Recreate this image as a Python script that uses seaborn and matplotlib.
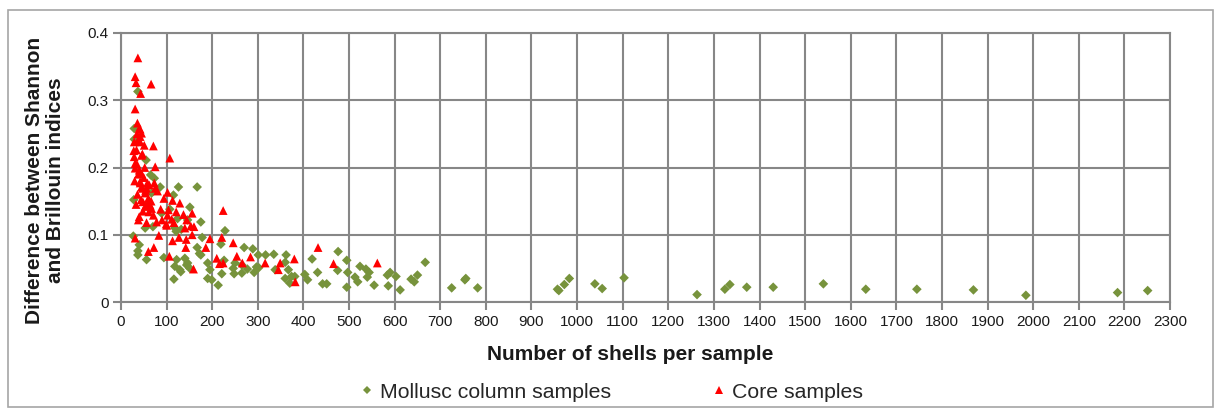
import matplotlib
matplotlib.use("Agg")
import matplotlib.pyplot as plt
from matplotlib.lines import Line2D
from matplotlib.patches import Rectangle
import seaborn as sns
import pandas as pd

# Mollusc column samples: number of shells vs. Shannon-Brillouin difference
mollusc_n = [37, 29, 29, 55, 65, 73, 86, 126, 167, 53, 67, 115, 28, 60, 151, 107, 89,
             124, 146, 175, 53, 70, 132, 121, 118, 228, 27, 178, 40, 37, 37, 56, 167,
             172, 175, 94, 122, 140, 118, 129, 144, 151, 131, 146, 116, 190, 195, 190,
             199, 213, 219, 226, 221, 246, 248, 265, 270, 289, 277, 292, 301, 317, 302,
             335, 362, 338, 360, 367, 374, 360, 370, 381, 403, 409, 419, 431, 442, 451,
             476, 475, 495, 497, 495, 513, 519, 524, 537, 544, 540, 555, 584, 590, 586,
             603, 612, 636, 643, 650, 667, 725, 754, 756, 782, 957, 960, 972, 983, 1039,
             1055, 1103, 1263, 1324, 1335, 1372, 1430, 1540, 1633, 1745, 1869, 1984,
             2185, 2251, 297, 265, 250]
mollusc_diff = [0.313, 0.258, 0.242, 0.211, 0.189, 0.184, 0.171, 0.171, 0.171, 0.167,
                0.162, 0.159, 0.152, 0.147, 0.141, 0.138, 0.132, 0.124, 0.122, 0.119,
                0.110, 0.112, 0.108, 0.105, 0.110, 0.106, 0.098, 0.096, 0.085, 0.076,
                0.070, 0.063, 0.081, 0.072, 0.070, 0.066, 0.063, 0.065, 0.053, 0.048,
                0.055, 0.050, 0.045, 0.058, 0.034, 0.058, 0.048, 0.035, 0.033, 0.025,
                0.086, 0.062, 0.042, 0.050, 0.042, 0.043, 0.081, 0.079, 0.049, 0.044,
                0.070, 0.070, 0.051, 0.071, 0.070, 0.048, 0.059, 0.048, 0.038, 0.035,
                0.028, 0.038, 0.041, 0.033, 0.064, 0.044, 0.027, 0.027, 0.075, 0.047,
                0.062, 0.044, 0.022, 0.037, 0.030, 0.053, 0.049, 0.044, 0.037, 0.025,
                0.040, 0.044, 0.024, 0.038, 0.018, 0.034, 0.030, 0.040, 0.059, 0.021,
                0.033, 0.035, 0.021, 0.019, 0.017, 0.026, 0.035, 0.027, 0.020, 0.036,
                0.011, 0.019, 0.026, 0.022, 0.022, 0.027, 0.019, 0.019, 0.018, 0.010,
                0.014, 0.017, 0.052, 0.055, 0.058]

# Core samples
core_n = [37, 31, 33, 66, 43, 31, 36, 40, 42, 45, 42, 38, 29, 42, 51, 71, 34, 29, 45,
          107, 31, 75, 31, 40, 45, 42, 45, 42, 58, 73, 62, 47, 56, 75, 54, 53, 102, 94,
          113, 44, 60, 48, 59, 129, 53, 64, 67, 87, 61, 121, 137, 156, 224, 40, 71, 102,
          104, 111, 116, 56, 99, 38, 78, 100, 144, 140, 153, 160, 156, 31, 83, 113, 127,
          143, 195, 221, 246, 72, 60, 142, 186, 106, 210, 216, 224, 254, 266, 284, 316,
          159, 349, 345, 380, 382, 432, 466, 562, 30, 35, 28, 38, 50, 36, 33, 48, 66,
          80, 90, 35, 47, 52]
core_diff = [0.363, 0.335, 0.326, 0.324, 0.310, 0.287, 0.266, 0.258, 0.257, 0.251,
             0.246, 0.241, 0.238, 0.238, 0.233, 0.232, 0.226, 0.216, 0.218, 0.214,
             0.206, 0.201, 0.199, 0.196, 0.191, 0.179, 0.171, 0.177, 0.177, 0.177,
             0.174, 0.169, 0.169, 0.169, 0.166, 0.162, 0.163, 0.154, 0.151, 0.152,
             0.154, 0.149, 0.146, 0.147, 0.142, 0.144, 0.139, 0.138, 0.134, 0.134,
             0.130, 0.132, 0.136, 0.127, 0.129, 0.129, 0.137, 0.123, 0.118, 0.118,
             0.116, 0.122, 0.119, 0.114, 0.122, 0.110, 0.113, 0.112, 0.100, 0.095,
             0.099, 0.091, 0.096, 0.093, 0.094, 0.096, 0.088, 0.081, 0.075, 0.081,
             0.081, 0.068, 0.065, 0.057, 0.058, 0.068, 0.058, 0.067, 0.058, 0.049,
             0.058, 0.048, 0.064, 0.030, 0.081, 0.057, 0.058, 0.180, 0.205, 0.225,
             0.190, 0.185, 0.160, 0.145, 0.135, 0.150, 0.165, 0.122, 0.250, 0.220,
             0.200]

x_ticks = list(range(0, 2301, 100))
y_ticks = [0, 0.1, 0.2, 0.3, 0.4]
y_tick_labels = ["0", "0.1", "0.2", "0.3", "0.4"]

sns.set_theme(style="white")
plt.rcParams["font.family"] = ["Liberation Sans", "DejaVu Sans"]

GREEN = "#77933C"
RED = "#FF0000"
GRID = "#878787"

fig = plt.figure(figsize=(12.19, 4.08), dpi=100)
fig.patch.set_facecolor("white")
ax = fig.add_axes([121 / 1219, 1 - 302 / 408, (1170 - 121) / 1219, (302 - 33) / 408])

mollusc = pd.DataFrame({"n": mollusc_n, "diff": mollusc_diff})
core = pd.DataFrame({"n": core_n, "diff": core_diff})

sns.scatterplot(data=mollusc, x="n", y="diff", ax=ax, marker="D", s=24,
                color=GREEN, edgecolor="none", linewidth=0, zorder=3, legend=False)
sns.scatterplot(data=core, x="n", y="diff", ax=ax, marker="^", s=40,
                color=RED, edgecolor="none", linewidth=0, zorder=4, legend=False)

ax.set_xlim(0, 2300)
ax.set_ylim(0, 0.4)
ax.set_xticks(x_ticks)
ax.set_xticklabels([str(t) for t in x_ticks])
ax.set_yticks(y_ticks)
ax.set_yticklabels(y_tick_labels)
ax.grid(True, color=GRID, linewidth=1.5, zorder=1)
ax.set_axisbelow(True)
for side in ["left", "bottom", "top", "right"]:
    ax.spines[side].set_visible(True)
    ax.spines[side].set_color(GRID)
    ax.spines[side].set_linewidth(1.5)
ax.tick_params(axis="both", direction="out", length=6, width=1.5, color=GRID,
               labelsize=11, labelcolor="#1a1a1a", pad=3, bottom=True, left=True)
ax.set_xlabel("")
ax.set_ylabel("")

fig.text(630 / 1219, 1 - 355 / 408, "Number of shells per sample",
         ha="center", va="center", fontsize=15, fontweight="bold", color="#1a1a1a")
fig.text(45 / 1219, 1 - 180 / 408, "Difference between Shannon\nand Brillouin indices",
         ha="center", va="center", rotation=90, fontsize=15, fontweight="bold",
         color="#1a1a1a", multialignment="center", linespacing=1.1)

handles = [
    Line2D([], [], marker="D", color=GREEN, linestyle="none", markersize=4.5,
           markeredgewidth=0),
    Line2D([], [], marker="^", color=RED, linestyle="none", markersize=5.5,
           markeredgewidth=0),
]
fig.legend(handles, ["Mollusc column samples", "Core samples"],
           loc="center", bbox_to_anchor=(612 / 1219, 1 - 392 / 408), ncol=2,
           frameon=False, fontsize=15.3, handlelength=0.6, handletextpad=0.3,
           columnspacing=4.8, borderpad=0)

# chart-area border
fig.add_artist(Rectangle((8 / 1219, 1 / 408), (1213 - 8) / 1219, (407 - 10) / 408,
                         transform=fig.transFigure, fill=False,
                         edgecolor="#a6a6a6", linewidth=1.2))

fig.savefig("out.png", dpi=100, facecolor="white")
